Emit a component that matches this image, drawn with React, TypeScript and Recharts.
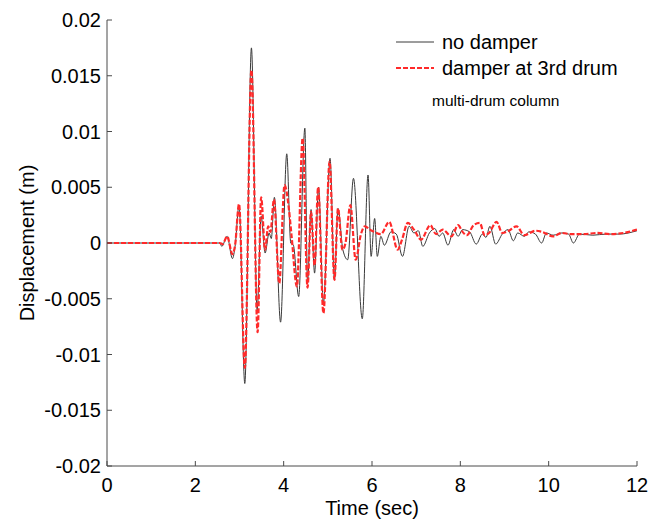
import React from 'react';
import { LineChart, Line, XAxis, YAxis, Legend } from 'recharts';

// Time (s) and displacement (m) — no damper
const tNoDamper = [0, 2.55, 2.6, 2.72, 2.84, 2.9, 2.99, 3.12, 3.27, 3.4, 3.49, 3.58, 3.67, 3.72, 3.79, 3.93, 4.07, 4.16, 4.22, 4.34, 4.48, 4.54, 4.62, 4.7, 4.79, 4.9, 5.05, 5.15, 5.23, 5.34, 5.45, 5.58, 5.78, 5.91, 5.98, 6.06, 6.12, 6.2, 6.28, 6.43, 6.55, 6.69, 6.84, 6.95, 7.05, 7.15, 7.3, 7.42, 7.52, 7.6, 7.72, 7.85, 7.95, 8.05, 8.21, 8.36, 8.5, 8.58, 8.67, 8.8, 8.95, 9.08, 9.2, 9.3, 9.45, 9.55, 9.7, 9.84, 9.95, 10.1, 10.3, 10.45, 10.56, 10.7, 11.0, 11.3, 11.6, 12];
const vNoDamper = [0, 0, -0.0003, 0.0006, -0.0014, -0.0003, 0.0034, -0.0126, 0.0175, -0.006, 0.0024, -0.0009, 0.0009, 0.0004, 0.0041, -0.0071, 0.008, 0.0, -0.0002, -0.0048, 0.0103, -0.0036, 0.003, -0.0027, 0.005, -0.0054, 0.0076, -0.0033, 0.0031, -0.0006, -0.0015, 0.0058, -0.0068, 0.0061, -0.0012, 0.0022, -0.0012, 0.0006, -0.0002, 0.001, 0.0008, -0.0012, 0.0015, 0.0009, 0.0011, -0.0003, 0.0009, 0.0013, 0.0006, 0.0009, -0.0002, 0.0012, 0.0006, 0.0012, 0.001, -0.0001, 0.0008, 0.0005, 0.0015, -0.0001, 0.0008, 0.0012, 0.0002, 0.0009, 0.0006, 0.001, 0.0008, 0.0, 0.0009, 0.0007, 0.0009, 0.0008, 0.0, 0.0008, 0.0007, 0.0008, 0.0008, 0.0011];

// damper at 3rd drum
const tDamper = [0, 2.55, 2.62, 2.72, 2.84, 2.9, 2.99, 3.12, 3.27, 3.41, 3.49, 3.58, 3.65, 3.7, 3.78, 3.9, 4.02, 4.12, 4.18, 4.3, 4.43, 4.54, 4.62, 4.7, 4.78, 4.9, 5.04, 5.15, 5.23, 5.33, 5.4, 5.51, 5.63, 5.75, 5.84, 5.95, 6.05, 6.2, 6.39, 6.58, 6.68, 6.81, 6.95, 7.11, 7.32, 7.45, 7.6, 7.8, 7.95, 8.05, 8.15, 8.3, 8.44, 8.55, 8.65, 8.82, 8.95, 9.1, 9.27, 9.45, 9.7, 9.85, 10.1, 10.3, 10.5, 10.8, 11.1, 11.4, 11.7, 12];
const vDamper = [0, 0, -0.0001, 0.0006, -0.001, -0.0002, 0.0035, -0.0112, 0.0155, -0.008, 0.0041, -0.0006, 0.0015, 0.001, 0.0039, -0.0036, 0.0052, 0.003, 0.0006, -0.0039, 0.0094, -0.004, 0.0028, -0.002, 0.005, -0.0063, 0.0073, -0.0033, 0.0031, -0.0006, 0.0, 0.0034, -0.0015, 0.0008, 0.0015, 0.0012, 0.001, 0.0008, 0.0019, -0.0006, 0.0003, 0.0018, 0.0012, 0.0003, 0.0016, 0.0008, 0.0012, 0.0006, 0.0016, 0.001, 0.0007, 0.0016, 0.0018, 0.0007, 0.0009, 0.0019, 0.0009, 0.0011, 0.0015, 0.0007, 0.0011, 0.001, 0.0006, 0.0009, 0.0008, 0.0008, 0.0009, 0.0008, 0.0009, 0.0012];

const xTicks = [0, 2, 4, 6, 8, 10, 12];
const yTicks = [-0.02, -0.015, -0.01, -0.005, 0, 0.005, 0.01, 0.015, 0.02];
const seriesNames = ['no damper', 'damper at 3rd drum'];
const noteText = 'multi-drum column';

const noDamperData = tNoDamper.map((t, i) => ({ t, v: vNoDamper[i] }));
const damperData = tDamper.map((t, i) => ({ t, v: vDamper[i] }));

const FONT = 'Arial, "Liberation Sans", Helvetica, sans-serif';
const AXIS_COLOR = '#4a4a4a';
const RED = '#ff2a2a';
const BLACK = '#3a3a3a';

const fmtY = (v: number) => (v === 0 ? '0' : String(Number(v.toFixed(3))));

const YLabel = (props: any) => {
  const vb = props.viewBox || { x: 0, y: 0, width: 0, height: 0 };
  const cx = vb.x + 27;
  const cy = vb.y + vb.height / 2;
  return (
    <text x={cx} y={cy} transform={`rotate(-90 ${cx} ${cy})`} textAnchor="middle" dominantBaseline="central" fontSize={20} fontFamily={FONT} fill="#000">
      Displacement (m)
    </text>
  );
};

const XLabel = (props: any) => {
  const vb = props.viewBox || { x: 0, y: 0, width: 0, height: 0 };
  return (
    <text x={vb.x + vb.width / 2} y={vb.y + 49} textAnchor="middle" fontSize={20} fontFamily={FONT} fill="#000">
      Time (sec)
    </text>
  );
};

const LegendBox = () => (
  <div style={{ fontFamily: FONT, color: '#000', lineHeight: 1 }}>
    <div style={{ display: 'flex', alignItems: 'center', height: 26 }}>
      <svg width={40} height={10} style={{ marginRight: 6 }}>
        <line x1={0} y1={5} x2={38} y2={5} stroke={BLACK} strokeWidth={1} />
      </svg>
      <span style={{ fontSize: 20 }}>{seriesNames[0]}</span>
    </div>
    <div style={{ display: 'flex', alignItems: 'center', height: 26 }}>
      <svg width={40} height={10} style={{ marginRight: 6 }}>
        <line x1={0} y1={5} x2={38} y2={5} stroke={RED} strokeWidth={2} strokeDasharray="5 2" />
      </svg>
      <span style={{ fontSize: 20 }}>{seriesNames[1]}</span>
    </div>
    <div style={{ fontSize: 15.5, marginTop: 12, marginLeft: 36 }}>{noteText}</div>
  </div>
);

export default function App() {
  return (
    <div style={{ position: 'absolute', left: 0, top: 0, width: 662, height: 521, background: '#fff' }}>
      <LineChart width={662} height={521} margin={{ top: 20, right: 25, bottom: 0, left: 0 }}>
        <XAxis
          xAxisId="b"
          dataKey="t"
          type="number"
          domain={[0, 12]}
          ticks={xTicks}
          allowDataOverflow
          height={55}
          tickSize={-5}
          tickMargin={17}
          axisLine={{ stroke: AXIS_COLOR }}
          tickLine={{ stroke: AXIS_COLOR }}
          tick={{ fontSize: 20, fontFamily: FONT, fill: '#000' }}
          interval={0}
          label={<XLabel />}
        />
        <XAxis
          xAxisId="top"
          orientation="top"
          dataKey="t"
          type="number"
          domain={[0, 12]}
          ticks={xTicks}
          allowDataOverflow
          height={0}
          tickSize={-5}
          axisLine={{ stroke: AXIS_COLOR }}
          tickLine={{ stroke: AXIS_COLOR }}
          tick={false}
          interval={0}
        />
        <YAxis
          yAxisId="l"
          type="number"
          domain={[-0.02, 0.02]}
          ticks={yTicks}
          allowDataOverflow
          width={107}
          tickSize={-5}
          tickMargin={11}
          axisLine={{ stroke: AXIS_COLOR }}
          tickLine={{ stroke: AXIS_COLOR }}
          tick={{ fontSize: 20, fontFamily: FONT, fill: '#000' }}
          tickFormatter={fmtY}
          interval={0}
          label={<YLabel />}
        />
        <YAxis
          yAxisId="r"
          orientation="right"
          type="number"
          domain={[-0.02, 0.02]}
          ticks={yTicks}
          allowDataOverflow
          width={0}
          tickSize={-5}
          axisLine={{ stroke: AXIS_COLOR }}
          tickLine={{ stroke: AXIS_COLOR }}
          tick={false}
          interval={0}
        />
        <Line
          xAxisId="b"
          yAxisId="l"
          data={noDamperData}
          dataKey="v"
          name={seriesNames[0]}
          type="monotone"
          stroke={BLACK}
          strokeWidth={1}
          dot={false}
          activeDot={false}
          isAnimationActive={false}
        />
        <Line
          xAxisId="b"
          yAxisId="l"
          data={damperData}
          dataKey="v"
          name={seriesNames[1]}
          type="monotone"
          stroke={RED}
          strokeWidth={2.2}
          strokeDasharray="5 2"
          dot={false}
          activeDot={false}
          isAnimationActive={false}
        />
        <Legend
          layout="horizontal"
          verticalAlign="middle"
          align="center"
          content={<LegendBox />}
          wrapperStyle={{ position: 'absolute', left: 396, top: 29, width: 240, height: 90 }}
        />
      </LineChart>
    </div>
  );
}
